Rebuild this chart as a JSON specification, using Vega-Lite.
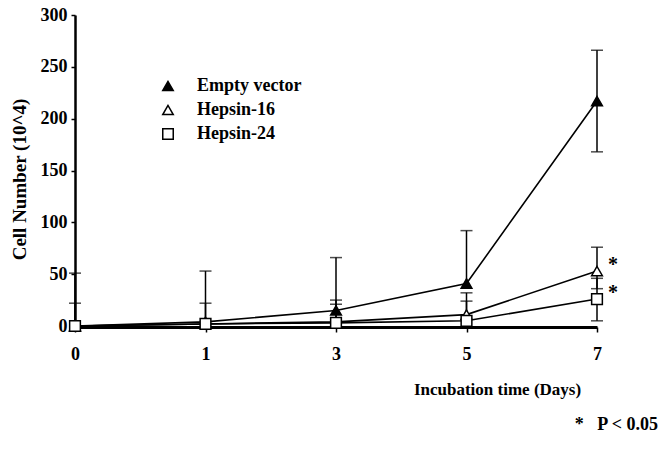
{
  "$schema": "https://vega.github.io/schema/vega-lite/v6.json",
  "width": 522,
  "height": 311,
  "autosize": "none",
  "padding": {"left": 75, "top": 15, "right": 65, "bottom": 125},
  "background": "white",
  "title": {
    "text": "*\u00a0\u00a0\u00a0P < 0.05",
    "orient": "bottom",
    "anchor": "end",
    "frame": "group",
    "font": "Liberation Serif",
    "fontSize": 18,
    "fontWeight": "bold",
    "color": "black",
    "dx": 61,
    "offset": 19
  },
  "config": {
    "view": {"stroke": null},
    "font": "Liberation Serif",
    "axis": {
      "grid": false,
      "domainColor": "black",
      "tickColor": "black",
      "labelColor": "black",
      "titleColor": "black",
      "labelFont": "Liberation Serif",
      "titleFont": "Liberation Serif",
      "labelFontSize": 18,
      "titleFontSize": 17,
      "labelFontWeight": "bold",
      "titleFontWeight": "bold"
    }
  },
  "data": {
    "values": [
      {"day": "0", "series": "Empty vector", "value": 0, "lo": 0, "hi": 51},
      {"day": "1", "series": "Empty vector", "value": 4, "lo": 4, "hi": 53},
      {"day": "3", "series": "Empty vector", "value": 15, "lo": 15, "hi": 66},
      {"day": "5", "series": "Empty vector", "value": 41, "lo": 41, "hi": 92},
      {"day": "7", "series": "Empty vector", "value": 217, "lo": 168, "hi": 266},
      {"day": "0", "series": "Hepsin-16", "value": 0, "lo": 0, "hi": 22},
      {"day": "1", "series": "Hepsin-16", "value": 2, "lo": 2, "hi": 22},
      {"day": "3", "series": "Hepsin-16", "value": 4, "lo": 4, "hi": 25},
      {"day": "5", "series": "Hepsin-16", "value": 11, "lo": 11, "hi": 32},
      {"day": "7", "series": "Hepsin-16", "value": 53, "lo": 36, "hi": 76},
      {"day": "0", "series": "Hepsin-24", "value": 0, "lo": 0, "hi": 0},
      {"day": "1", "series": "Hepsin-24", "value": 2, "lo": 2, "hi": 2},
      {"day": "3", "series": "Hepsin-24", "value": 3, "lo": 3, "hi": 21},
      {"day": "5", "series": "Hepsin-24", "value": 5, "lo": 5, "hi": 24},
      {"day": "7", "series": "Hepsin-24", "value": 26, "lo": 5, "hi": 46}
    ]
  },
  "encoding": {
    "x": {
      "field": "day",
      "type": "ordinal",
      "sort": null,
      "scale": {"type": "point", "padding": 0, "domain": ["0", "1", "3", "5", "7"]},
      "axis": {
        "title": "Incubation time (Days)",
        "labelAngle": 0,
        "domainWidth": 3,
        "offset": 1,
        "tickSize": 5,
        "tickWidth": 1.5,
        "labelPadding": 13,
        "titleX": 422,
        "titleY": 62,
        "titleAlign": "center",
        "titleBaseline": "middle",
        "titleAnchor": null
      }
    }
  },
  "layer": [
    {
      "mark": {"type": "rule", "color": "black", "strokeWidth": 1.5},
      "encoding": {
        "y": {"field": "lo", "type": "quantitative"},
        "y2": {"field": "hi"}
      }
    },
    {
      "transform": [{"filter": "datum.hi > datum.value"}],
      "mark": {"type": "tick", "color": "black", "thickness": 1.5, "size": 12},
      "encoding": {
        "y": {"field": "hi", "type": "quantitative"}
      }
    },
    {
      "transform": [{"filter": "datum.lo < datum.value"}],
      "mark": {"type": "tick", "color": "black", "thickness": 1.5, "size": 12},
      "encoding": {
        "y": {"field": "lo", "type": "quantitative"}
      }
    },
    {
      "mark": {"type": "line", "color": "black", "strokeWidth": 1.6},
      "encoding": {
        "y": {"field": "value", "type": "quantitative"},
        "detail": {"field": "series"}
      }
    },
    {
      "mark": {"type": "point", "filled": true, "stroke": "black", "strokeWidth": 1.5, "size": 115, "opacity": 1},
      "encoding": {
        "y": {
          "field": "value",
          "type": "quantitative",
          "scale": {"domain": [0, 300], "nice": false},
          "axis": {
            "title": "Cell Number (10^4)",
            "values": [0, 50, 100, 150, 200, 250, 300],
            "domainWidth": 2.5,
            "tickSize": 4,
            "tickWidth": 1.5,
            "labelPadding": 4,
            "titleFontSize": 19,
            "titleX": -56,
            "titleY": 164,
            "titleAlign": "center",
            "titleBaseline": "middle",
            "titleAnchor": null
          }
        },
        "shape": {
          "field": "series",
          "type": "nominal",
          "scale": {"domain": ["Empty vector", "Hepsin-16", "Hepsin-24"], "range": ["triangle-up", "triangle-up", "square"]},
          "legend": {
            "title": null,
            "orient": "none",
            "legendX": 84,
            "legendY": 62,
            "padding": 0,
            "labelFont": "Liberation Serif",
            "labelFontSize": 18,
            "labelFontWeight": "bold",
            "labelColor": "black",
            "labelOffset": 20,
            "symbolSize": 110,
            "rowPadding": 6,
            "encode": {
              "symbols": {
                "fill": {"value": {"expr": "datum.value === 'Empty vector' ? 'black' : 'white'"}},
                "stroke": {"value": "black"},
                "strokeWidth": {"value": 1.5},
                "opacity": {"value": 1}
              }
            }
          }
        },
        "fill": {
          "field": "series",
          "type": "nominal",
          "scale": {"domain": ["Empty vector", "Hepsin-16", "Hepsin-24"], "range": ["black", "white", "white"]},
          "legend": null
        }
      }
    },
    {
      "transform": [{"filter": "datum.day === '7' && datum.series !== 'Empty vector'"}],
      "mark": {"type": "text", "text": "*", "font": "Liberation Serif", "fontSize": 20, "fontWeight": "bold", "color": "black", "dx": 16, "dy": -6, "baseline": "middle"},
      "encoding": {
        "y": {"field": "value", "type": "quantitative"}
      }
    }
  ]
}
